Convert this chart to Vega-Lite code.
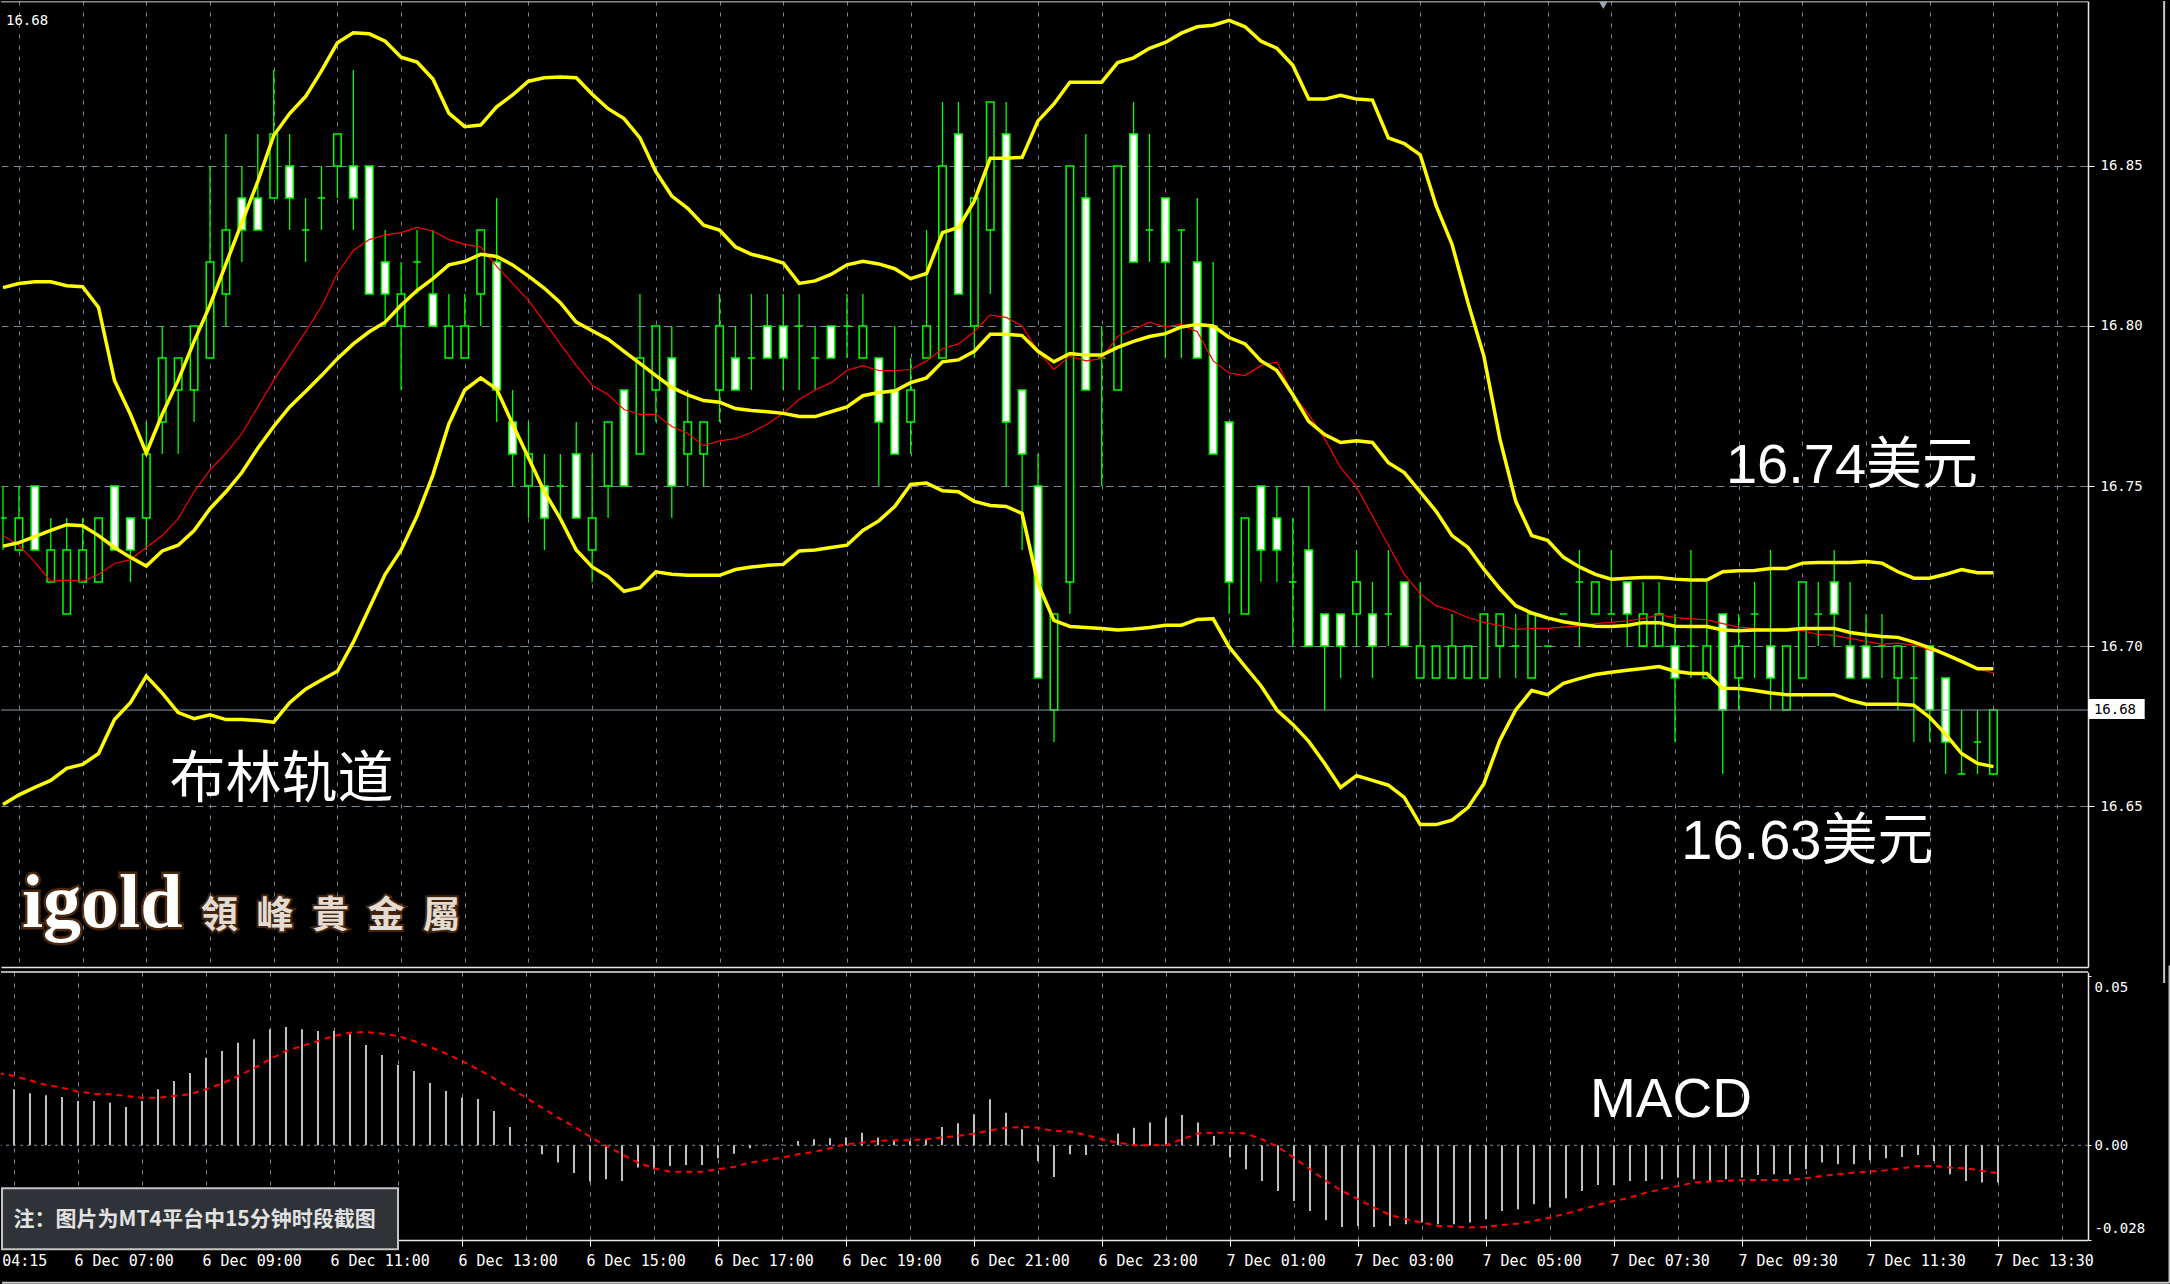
{
  "$schema": "https://vega.github.io/schema/vega-lite/v6.json",
  "background": "#000000",
  "padding": 0,
  "spacing": 5,
  "bounds": "flush",
  "config": {
    "view": {"stroke": null},
    "axis": {"title": null, "labelFont": "DejaVu Sans Mono", "labelColor": "#ffffff", "tickColor": "#ffffff", "domainColor": "#e6e6e6", "gridColor": "#778899", "labelOverlap": false, "labelFlush": false, "labelBound": false}
  },
  "datasets": {
    "bars": [
      {"i":-1,"o":16.74,"h":16.75,"l":16.73,"c":16.74},
      {"i":0,"o":16.73,"h":16.75,"l":16.73,"c":16.74},
      {"i":1,"o":16.75,"h":16.75,"l":16.73,"c":16.73},
      {"i":2,"o":16.72,"h":16.74,"l":16.72,"c":16.73},
      {"i":3,"o":16.71,"h":16.74,"l":16.71,"c":16.73},
      {"i":4,"o":16.72,"h":16.74,"l":16.72,"c":16.73},
      {"i":5,"o":16.72,"h":16.74,"l":16.72,"c":16.74},
      {"i":6,"o":16.75,"h":16.75,"l":16.73,"c":16.73},
      {"i":7,"o":16.74,"h":16.74,"l":16.72,"c":16.73},
      {"i":8,"o":16.74,"h":16.77,"l":16.73,"c":16.76},
      {"i":9,"o":16.77,"h":16.80,"l":16.76,"c":16.79},
      {"i":10,"o":16.78,"h":16.79,"l":16.76,"c":16.79},
      {"i":11,"o":16.78,"h":16.80,"l":16.77,"c":16.80},
      {"i":12,"o":16.79,"h":16.85,"l":16.79,"c":16.82},
      {"i":13,"o":16.81,"h":16.86,"l":16.80,"c":16.83},
      {"i":14,"o":16.84,"h":16.85,"l":16.82,"c":16.83},
      {"i":15,"o":16.84,"h":16.86,"l":16.83,"c":16.83},
      {"i":16,"o":16.84,"h":16.88,"l":16.84,"c":16.86},
      {"i":17,"o":16.85,"h":16.86,"l":16.83,"c":16.84},
      {"i":18,"o":16.83,"h":16.84,"l":16.82,"c":16.83},
      {"i":19,"o":16.84,"h":16.85,"l":16.83,"c":16.84},
      {"i":20,"o":16.85,"h":16.86,"l":16.84,"c":16.86},
      {"i":21,"o":16.85,"h":16.88,"l":16.83,"c":16.84},
      {"i":22,"o":16.85,"h":16.85,"l":16.81,"c":16.81},
      {"i":23,"o":16.82,"h":16.83,"l":16.80,"c":16.81},
      {"i":24,"o":16.80,"h":16.82,"l":16.78,"c":16.81},
      {"i":25,"o":16.82,"h":16.83,"l":16.81,"c":16.82},
      {"i":26,"o":16.81,"h":16.83,"l":16.80,"c":16.80},
      {"i":27,"o":16.79,"h":16.81,"l":16.79,"c":16.80},
      {"i":28,"o":16.79,"h":16.81,"l":16.79,"c":16.80},
      {"i":29,"o":16.81,"h":16.83,"l":16.80,"c":16.83},
      {"i":30,"o":16.82,"h":16.84,"l":16.77,"c":16.78},
      {"i":31,"o":16.77,"h":16.78,"l":16.75,"c":16.76},
      {"i":32,"o":16.75,"h":16.77,"l":16.74,"c":16.76},
      {"i":33,"o":16.75,"h":16.76,"l":16.73,"c":16.74},
      {"i":34,"o":16.75,"h":16.76,"l":16.74,"c":16.75},
      {"i":35,"o":16.76,"h":16.77,"l":16.74,"c":16.74},
      {"i":36,"o":16.73,"h":16.76,"l":16.72,"c":16.74},
      {"i":37,"o":16.75,"h":16.77,"l":16.74,"c":16.77},
      {"i":38,"o":16.78,"h":16.78,"l":16.75,"c":16.75},
      {"i":39,"o":16.76,"h":16.81,"l":16.76,"c":16.79},
      {"i":40,"o":16.78,"h":16.80,"l":16.77,"c":16.80},
      {"i":41,"o":16.79,"h":16.80,"l":16.74,"c":16.75},
      {"i":42,"o":16.76,"h":16.78,"l":16.75,"c":16.77},
      {"i":43,"o":16.76,"h":16.77,"l":16.75,"c":16.77},
      {"i":44,"o":16.78,"h":16.81,"l":16.77,"c":16.80},
      {"i":45,"o":16.79,"h":16.80,"l":16.78,"c":16.78},
      {"i":46,"o":16.79,"h":16.81,"l":16.78,"c":16.79},
      {"i":47,"o":16.80,"h":16.81,"l":16.79,"c":16.79},
      {"i":48,"o":16.80,"h":16.81,"l":16.78,"c":16.79},
      {"i":49,"o":16.80,"h":16.81,"l":16.78,"c":16.80},
      {"i":50,"o":16.79,"h":16.80,"l":16.78,"c":16.79},
      {"i":51,"o":16.80,"h":16.80,"l":16.79,"c":16.79},
      {"i":52,"o":16.80,"h":16.81,"l":16.79,"c":16.80},
      {"i":53,"o":16.79,"h":16.81,"l":16.79,"c":16.80},
      {"i":54,"o":16.79,"h":16.79,"l":16.75,"c":16.77},
      {"i":55,"o":16.78,"h":16.80,"l":16.76,"c":16.76},
      {"i":56,"o":16.77,"h":16.79,"l":16.76,"c":16.78},
      {"i":57,"o":16.79,"h":16.83,"l":16.79,"c":16.80},
      {"i":58,"o":16.79,"h":16.87,"l":16.79,"c":16.85},
      {"i":59,"o":16.86,"h":16.87,"l":16.81,"c":16.81},
      {"i":60,"o":16.80,"h":16.84,"l":16.79,"c":16.84},
      {"i":61,"o":16.83,"h":16.87,"l":16.81,"c":16.87},
      {"i":62,"o":16.86,"h":16.87,"l":16.75,"c":16.77},
      {"i":63,"o":16.78,"h":16.78,"l":16.73,"c":16.76},
      {"i":64,"o":16.75,"h":16.76,"l":16.69,"c":16.69},
      {"i":65,"o":16.68,"h":16.71,"l":16.67,"c":16.71},
      {"i":66,"o":16.72,"h":16.85,"l":16.71,"c":16.85},
      {"i":67,"o":16.84,"h":16.86,"l":16.78,"c":16.78},
      {"i":68,"o":16.79,"h":16.80,"l":16.75,"c":16.79},
      {"i":69,"o":16.78,"h":16.85,"l":16.78,"c":16.85},
      {"i":70,"o":16.86,"h":16.87,"l":16.82,"c":16.82},
      {"i":71,"o":16.83,"h":16.86,"l":16.82,"c":16.83},
      {"i":72,"o":16.84,"h":16.84,"l":16.79,"c":16.82},
      {"i":73,"o":16.83,"h":16.83,"l":16.79,"c":16.83},
      {"i":74,"o":16.82,"h":16.84,"l":16.79,"c":16.79},
      {"i":75,"o":16.80,"h":16.82,"l":16.76,"c":16.76},
      {"i":76,"o":16.77,"h":16.77,"l":16.71,"c":16.72},
      {"i":77,"o":16.71,"h":16.74,"l":16.71,"c":16.74},
      {"i":78,"o":16.75,"h":16.75,"l":16.72,"c":16.73},
      {"i":79,"o":16.74,"h":16.75,"l":16.72,"c":16.73},
      {"i":80,"o":16.72,"h":16.74,"l":16.70,"c":16.72},
      {"i":81,"o":16.73,"h":16.75,"l":16.70,"c":16.70},
      {"i":82,"o":16.71,"h":16.71,"l":16.68,"c":16.70},
      {"i":83,"o":16.71,"h":16.71,"l":16.69,"c":16.70},
      {"i":84,"o":16.71,"h":16.73,"l":16.70,"c":16.72},
      {"i":85,"o":16.71,"h":16.72,"l":16.69,"c":16.70},
      {"i":86,"o":16.71,"h":16.73,"l":16.70,"c":16.71},
      {"i":87,"o":16.72,"h":16.72,"l":16.70,"c":16.70},
      {"i":88,"o":16.69,"h":16.72,"l":16.69,"c":16.70},
      {"i":89,"o":16.69,"h":16.70,"l":16.69,"c":16.70},
      {"i":90,"o":16.69,"h":16.71,"l":16.69,"c":16.70},
      {"i":91,"o":16.69,"h":16.70,"l":16.69,"c":16.70},
      {"i":92,"o":16.69,"h":16.71,"l":16.69,"c":16.71},
      {"i":93,"o":16.70,"h":16.71,"l":16.69,"c":16.71},
      {"i":94,"o":16.70,"h":16.71,"l":16.69,"c":16.70},
      {"i":95,"o":16.69,"h":16.71,"l":16.69,"c":16.71},
      {"i":96,"o":16.70,"h":16.70,"l":16.70,"c":16.70},
      {"i":97,"o":16.71,"h":16.71,"l":16.71,"c":16.71},
      {"i":98,"o":16.72,"h":16.73,"l":16.70,"c":16.72},
      {"i":99,"o":16.71,"h":16.72,"l":16.71,"c":16.72},
      {"i":100,"o":16.71,"h":16.73,"l":16.71,"c":16.71},
      {"i":101,"o":16.72,"h":16.72,"l":16.70,"c":16.71},
      {"i":102,"o":16.70,"h":16.72,"l":16.70,"c":16.71},
      {"i":103,"o":16.70,"h":16.72,"l":16.70,"c":16.71},
      {"i":104,"o":16.70,"h":16.71,"l":16.67,"c":16.69},
      {"i":105,"o":16.70,"h":16.73,"l":16.69,"c":16.70},
      {"i":106,"o":16.69,"h":16.72,"l":16.69,"c":16.70},
      {"i":107,"o":16.71,"h":16.71,"l":16.66,"c":16.68},
      {"i":108,"o":16.69,"h":16.71,"l":16.68,"c":16.70},
      {"i":109,"o":16.71,"h":16.72,"l":16.69,"c":16.71},
      {"i":110,"o":16.70,"h":16.73,"l":16.68,"c":16.69},
      {"i":111,"o":16.68,"h":16.70,"l":16.68,"c":16.70},
      {"i":112,"o":16.69,"h":16.72,"l":16.69,"c":16.72},
      {"i":113,"o":16.71,"h":16.72,"l":16.70,"c":16.71},
      {"i":114,"o":16.72,"h":16.73,"l":16.70,"c":16.71},
      {"i":115,"o":16.70,"h":16.72,"l":16.69,"c":16.69},
      {"i":116,"o":16.70,"h":16.71,"l":16.69,"c":16.69},
      {"i":117,"o":16.70,"h":16.71,"l":16.69,"c":16.70},
      {"i":118,"o":16.69,"h":16.70,"l":16.68,"c":16.70},
      {"i":119,"o":16.69,"h":16.70,"l":16.67,"c":16.69},
      {"i":120,"o":16.70,"h":16.70,"l":16.67,"c":16.68},
      {"i":121,"o":16.69,"h":16.69,"l":16.66,"c":16.67},
      {"i":122,"o":16.66,"h":16.68,"l":16.66,"c":16.66},
      {"i":123,"o":16.67,"h":16.68,"l":16.66,"c":16.67},
      {"i":124,"o":16.66,"h":16.68,"l":16.66,"c":16.68}
    ],
    "bands": [
      {"i":-1,"up":16.812,"mid":16.7312,"lo":16.6505,"ma":16.7345},
      {"i":0,"up":16.8133,"mid":16.7323,"lo":16.6535,"ma":16.7315},
      {"i":1,"up":16.8138,"mid":16.7342,"lo":16.6558,"ma":16.7262},
      {"i":2,"up":16.8138,"mid":16.7361,"lo":16.658,"ma":16.7202},
      {"i":3,"up":16.8126,"mid":16.7379,"lo":16.6618,"ma":16.7206},
      {"i":4,"up":16.8123,"mid":16.7376,"lo":16.663,"ma":16.7202},
      {"i":5,"up":16.8058,"mid":16.7345,"lo":16.6664,"ma":16.7224},
      {"i":6,"up":16.783,"mid":16.7308,"lo":16.677,"ma":16.7258},
      {"i":7,"up":16.7724,"mid":16.7277,"lo":16.6823,"ma":16.727},
      {"i":8,"up":16.7603,"mid":16.725,"lo":16.6906,"ma":16.7308},
      {"i":9,"up":16.7724,"mid":16.7297,"lo":16.6853,"ma":16.7345},
      {"i":10,"up":16.783,"mid":16.7315,"lo":16.6792,"ma":16.7398},
      {"i":11,"up":16.7952,"mid":16.7361,"lo":16.6773,"ma":16.7482},
      {"i":12,"up":16.8065,"mid":16.7429,"lo":16.6785,"ma":16.755},
      {"i":13,"up":16.8194,"mid":16.7482,"lo":16.677,"ma":16.7603},
      {"i":14,"up":16.8323,"mid":16.7542,"lo":16.677,"ma":16.7664},
      {"i":15,"up":16.8452,"mid":16.7618,"lo":16.6767,"ma":16.7747},
      {"i":16,"up":16.8595,"mid":16.7686,"lo":16.6762,"ma":16.783},
      {"i":17,"up":16.8664,"mid":16.7747,"lo":16.6823,"ma":16.7906},
      {"i":18,"up":16.8717,"mid":16.7795,"lo":16.6865,"ma":16.7982},
      {"i":19,"up":16.8797,"mid":16.7845,"lo":16.6894,"ma":16.8061},
      {"i":20,"up":16.8885,"mid":16.7898,"lo":16.6921,"ma":16.8164},
      {"i":21,"up":16.8916,"mid":16.7944,"lo":16.7012,"ma":16.8236},
      {"i":22,"up":16.8913,"mid":16.7982,"lo":16.7118,"ma":16.827},
      {"i":23,"up":16.889,"mid":16.8012,"lo":16.7224,"ma":16.8285},
      {"i":24,"up":16.884,"mid":16.8065,"lo":16.73,"ma":16.8292},
      {"i":25,"up":16.8825,"mid":16.8111,"lo":16.7406,"ma":16.8308},
      {"i":26,"up":16.8772,"mid":16.8148,"lo":16.7535,"ma":16.8297},
      {"i":27,"up":16.8665,"mid":16.8191,"lo":16.7694,"ma":16.827},
      {"i":28,"up":16.8623,"mid":16.8202,"lo":16.78,"ma":16.8255},
      {"i":29,"up":16.8628,"mid":16.8224,"lo":16.7838,"ma":16.8247},
      {"i":30,"up":16.8685,"mid":16.8217,"lo":16.7803,"ma":16.8186},
      {"i":31,"up":16.8722,"mid":16.8191,"lo":16.7694,"ma":16.8133},
      {"i":32,"up":16.8765,"mid":16.8156,"lo":16.7588,"ma":16.808},
      {"i":33,"up":16.8776,"mid":16.8118,"lo":16.7482,"ma":16.8012},
      {"i":34,"up":16.8778,"mid":16.8073,"lo":16.7398,"ma":16.7944},
      {"i":35,"up":16.8776,"mid":16.8012,"lo":16.73,"ma":16.7876},
      {"i":36,"up":16.8724,"mid":16.7985,"lo":16.7247,"ma":16.7815},
      {"i":37,"up":16.8679,"mid":16.7959,"lo":16.7217,"ma":16.7785},
      {"i":38,"up":16.8648,"mid":16.7921,"lo":16.7171,"ma":16.7739},
      {"i":39,"up":16.8588,"mid":16.7883,"lo":16.7182,"ma":16.7724},
      {"i":40,"up":16.8482,"mid":16.7845,"lo":16.7232,"ma":16.7724},
      {"i":41,"up":16.8406,"mid":16.7808,"lo":16.7224,"ma":16.7686},
      {"i":42,"up":16.8368,"mid":16.7785,"lo":16.7221,"ma":16.7664},
      {"i":43,"up":16.8315,"mid":16.7767,"lo":16.7221,"ma":16.7626},
      {"i":44,"up":16.83,"mid":16.7762,"lo":16.7221,"ma":16.7641},
      {"i":45,"up":16.8247,"mid":16.7742,"lo":16.7239,"ma":16.7648},
      {"i":46,"up":16.8224,"mid":16.7736,"lo":16.7247,"ma":16.7667},
      {"i":47,"up":16.8212,"mid":16.7732,"lo":16.7252,"ma":16.7694},
      {"i":48,"up":16.8197,"mid":16.7727,"lo":16.7255,"ma":16.7727},
      {"i":49,"up":16.8133,"mid":16.7717,"lo":16.7297,"ma":16.777},
      {"i":50,"up":16.8141,"mid":16.7717,"lo":16.73,"ma":16.78},
      {"i":51,"up":16.8161,"mid":16.7732,"lo":16.7308,"ma":16.7823},
      {"i":52,"up":16.8191,"mid":16.7747,"lo":16.7315,"ma":16.7861},
      {"i":53,"up":16.8202,"mid":16.7782,"lo":16.7361,"ma":16.7876},
      {"i":54,"up":16.8194,"mid":16.7792,"lo":16.7391,"ma":16.7861},
      {"i":55,"up":16.8179,"mid":16.7797,"lo":16.7436,"ma":16.7861},
      {"i":56,"up":16.8148,"mid":16.7823,"lo":16.7505,"ma":16.7864},
      {"i":57,"up":16.8164,"mid":16.7838,"lo":16.7509,"ma":16.7891},
      {"i":58,"up":16.8292,"mid":16.7888,"lo":16.7485,"ma":16.7929},
      {"i":59,"up":16.8308,"mid":16.7894,"lo":16.7482,"ma":16.7944},
      {"i":60,"up":16.8391,"mid":16.7921,"lo":16.7452,"ma":16.7982},
      {"i":61,"up":16.8524,"mid":16.7974,"lo":16.7439,"ma":16.8035},
      {"i":62,"up":16.8524,"mid":16.7974,"lo":16.7436,"ma":16.8027},
      {"i":63,"up":16.8527,"mid":16.797,"lo":16.7414,"ma":16.8},
      {"i":64,"up":16.8641,"mid":16.7921,"lo":16.7194,"ma":16.7921},
      {"i":65,"up":16.8694,"mid":16.7888,"lo":16.708,"ma":16.7864},
      {"i":66,"up":16.8762,"mid":16.7914,"lo":16.7061,"ma":16.7906},
      {"i":67,"up":16.8762,"mid":16.7909,"lo":16.7058,"ma":16.7891},
      {"i":68,"up":16.8762,"mid":16.7909,"lo":16.7055,"ma":16.7898},
      {"i":69,"up":16.8823,"mid":16.7933,"lo":16.705,"ma":16.7967},
      {"i":70,"up":16.8838,"mid":16.7952,"lo":16.7053,"ma":16.7989},
      {"i":71,"up":16.8868,"mid":16.7967,"lo":16.7058,"ma":16.8012},
      {"i":72,"up":16.8886,"mid":16.7976,"lo":16.7065,"ma":16.7997},
      {"i":73,"up":16.8915,"mid":16.7997,"lo":16.7065,"ma":16.8005},
      {"i":74,"up":16.8935,"mid":16.8005,"lo":16.7083,"ma":16.7982},
      {"i":75,"up":16.894,"mid":16.8,"lo":16.7085,"ma":16.7891},
      {"i":76,"up":16.8955,"mid":16.7964,"lo":16.6997,"ma":16.7853},
      {"i":77,"up":16.8935,"mid":16.7944,"lo":16.6936,"ma":16.7845},
      {"i":78,"up":16.889,"mid":16.7891,"lo":16.6876,"ma":16.7876},
      {"i":79,"up":16.8868,"mid":16.7861,"lo":16.68,"ma":16.7888},
      {"i":80,"up":16.8815,"mid":16.7785,"lo":16.6755,"ma":16.7785},
      {"i":81,"up":16.8709,"mid":16.7702,"lo":16.6702,"ma":16.7724},
      {"i":82,"up":16.8709,"mid":16.7661,"lo":16.6633,"ma":16.7648},
      {"i":83,"up":16.8721,"mid":16.7636,"lo":16.6558,"ma":16.7558},
      {"i":84,"up":16.8709,"mid":16.7641,"lo":16.6595,"ma":16.7497},
      {"i":85,"up":16.8706,"mid":16.7636,"lo":16.658,"ma":16.7406},
      {"i":86,"up":16.8588,"mid":16.7573,"lo":16.6565,"ma":16.7315},
      {"i":87,"up":16.857,"mid":16.7542,"lo":16.6527,"ma":16.7224},
      {"i":88,"up":16.8535,"mid":16.7482,"lo":16.6442,"ma":16.7164},
      {"i":89,"up":16.8376,"mid":16.7421,"lo":16.6442,"ma":16.7126},
      {"i":90,"up":16.8255,"mid":16.7345,"lo":16.6456,"ma":16.711},
      {"i":91,"up":16.8073,"mid":16.7308,"lo":16.6495,"ma":16.7089},
      {"i":92,"up":16.7906,"mid":16.724,"lo":16.657,"ma":16.7074},
      {"i":93,"up":16.7648,"mid":16.7179,"lo":16.6705,"ma":16.7064},
      {"i":94,"up":16.7452,"mid":16.7126,"lo":16.68,"ma":16.7052},
      {"i":95,"up":16.7345,"mid":16.7103,"lo":16.6861,"ma":16.7055},
      {"i":96,"up":16.733,"mid":16.7088,"lo":16.6848,"ma":16.7055},
      {"i":97,"up":16.7277,"mid":16.7076,"lo":16.6883,"ma":16.7059},
      {"i":98,"up":16.7247,"mid":16.7068,"lo":16.6898,"ma":16.7062},
      {"i":99,"up":16.7224,"mid":16.7062,"lo":16.6911,"ma":16.707},
      {"i":100,"up":16.7209,"mid":16.7061,"lo":16.6918,"ma":16.7074},
      {"i":101,"up":16.7212,"mid":16.7064,"lo":16.6924,"ma":16.7079},
      {"i":102,"up":16.7214,"mid":16.7073,"lo":16.693,"ma":16.7086},
      {"i":103,"up":16.7214,"mid":16.7073,"lo":16.6936,"ma":16.7097},
      {"i":104,"up":16.7209,"mid":16.7062,"lo":16.6921,"ma":16.7089},
      {"i":105,"up":16.7206,"mid":16.7061,"lo":16.6914,"ma":16.7085},
      {"i":106,"up":16.7206,"mid":16.7061,"lo":16.6914,"ma":16.7082},
      {"i":107,"up":16.7232,"mid":16.705,"lo":16.6868,"ma":16.707},
      {"i":108,"up":16.7235,"mid":16.7048,"lo":16.6867,"ma":16.7059},
      {"i":109,"up":16.7236,"mid":16.705,"lo":16.6861,"ma":16.7055},
      {"i":110,"up":16.7242,"mid":16.705,"lo":16.6853,"ma":16.705},
      {"i":111,"up":16.7242,"mid":16.705,"lo":16.6848,"ma":16.7048},
      {"i":112,"up":16.7259,"mid":16.7055,"lo":16.6848,"ma":16.7048},
      {"i":113,"up":16.7261,"mid":16.7055,"lo":16.6848,"ma":16.7036},
      {"i":114,"up":16.7261,"mid":16.7055,"lo":16.6848,"ma":16.7033},
      {"i":115,"up":16.7261,"mid":16.7042,"lo":16.683,"ma":16.7024},
      {"i":116,"up":16.7264,"mid":16.7035,"lo":16.6818,"ma":16.7014},
      {"i":117,"up":16.7259,"mid":16.703,"lo":16.6818,"ma":16.7006},
      {"i":118,"up":16.7232,"mid":16.7027,"lo":16.6818,"ma":16.7009},
      {"i":119,"up":16.7212,"mid":16.7012,"lo":16.6815,"ma":16.7003},
      {"i":120,"up":16.7212,"mid":16.6994,"lo":16.6777,"ma":16.6988},
      {"i":121,"up":16.7224,"mid":16.6974,"lo":16.6724,"ma":16.6976},
      {"i":122,"up":16.7239,"mid":16.6952,"lo":16.6664,"ma":16.6953},
      {"i":123,"up":16.7229,"mid":16.6929,"lo":16.6633,"ma":16.693},
      {"i":124,"up":16.7229,"mid":16.6929,"lo":16.6623,"ma":16.6915}
    ],
    "macd": [
      {"i":-1,"hist":0.0168,"sig":0.0214},
      {"i":0,"hist":0.01654,"sig":0.02047},
      {"i":1,"hist":0.01535,"sig":0.0192},
      {"i":2,"hist":0.01476,"sig":0.01781},
      {"i":3,"hist":0.01427,"sig":0.01703},
      {"i":4,"hist":0.01309,"sig":0.01584},
      {"i":5,"hist":0.01309,"sig":0.01525},
      {"i":6,"hist":0.01259,"sig":0.01507},
      {"i":7,"hist":0.01131,"sig":0.01456},
      {"i":8,"hist":0.01309,"sig":0.01407},
      {"i":9,"hist":0.01654,"sig":0.01407},
      {"i":10,"hist":0.019,"sig":0.01456},
      {"i":11,"hist":0.02136,"sig":0.01507},
      {"i":12,"hist":0.02588,"sig":0.01654},
      {"i":13,"hist":0.02786,"sig":0.0182},
      {"i":14,"hist":0.03031,"sig":0.02047},
      {"i":15,"hist":0.03131,"sig":0.02275},
      {"i":16,"hist":0.03427,"sig":0.0254},
      {"i":17,"hist":0.03495,"sig":0.02786},
      {"i":18,"hist":0.03427,"sig":0.02934},
      {"i":19,"hist":0.03377,"sig":0.03081},
      {"i":20,"hist":0.03377,"sig":0.03229},
      {"i":21,"hist":0.03279,"sig":0.03327},
      {"i":22,"hist":0.02963,"sig":0.03347},
      {"i":23,"hist":0.02668,"sig":0.03297},
      {"i":24,"hist":0.02372,"sig":0.03229},
      {"i":25,"hist":0.02195,"sig":0.03081},
      {"i":26,"hist":0.0184,"sig":0.02904},
      {"i":27,"hist":0.01604,"sig":0.02706},
      {"i":28,"hist":0.0141,"sig":0.0249},
      {"i":29,"hist":0.0137,"sig":0.02245},
      {"i":30,"hist":0.01013,"sig":0.01979},
      {"i":31,"hist":0.0054,"sig":0.01703},
      {"i":32,"hist":0.0002,"sig":0.01407},
      {"i":33,"hist":-0.00266,"sig":0.01111},
      {"i":34,"hist":-0.00512,"sig":0.00815},
      {"i":35,"hist":-0.00818,"sig":0.0055},
      {"i":36,"hist":-0.01074,"sig":0.00254},
      {"i":37,"hist":-0.01005,"sig":-0.0002},
      {"i":38,"hist":-0.01054,"sig":-0.00266},
      {"i":39,"hist":-0.00661,"sig":-0.00512},
      {"i":40,"hist":-0.00709,"sig":-0.0068},
      {"i":41,"hist":-0.00611,"sig":-0.0078},
      {"i":42,"hist":-0.00582,"sig":-0.0078},
      {"i":43,"hist":-0.00582,"sig":-0.0078},
      {"i":44,"hist":-0.00384,"sig":-0.00709},
      {"i":45,"hist":-0.00248,"sig":-0.00641},
      {"i":46,"hist":-0.00089,"sig":-0.00512},
      {"i":47,"hist":0.0002,"sig":-0.00443},
      {"i":48,"hist":0.0002,"sig":-0.00366},
      {"i":49,"hist":0.00128,"sig":-0.00266},
      {"i":50,"hist":0.00177,"sig":-0.00198},
      {"i":51,"hist":0.00207,"sig":-0.00089},
      {"i":52,"hist":0.00226,"sig":0.0003},
      {"i":53,"hist":0.00373,"sig":0.00077},
      {"i":54,"hist":0.00226,"sig":0.00128},
      {"i":55,"hist":0.00128,"sig":0.00148},
      {"i":56,"hist":0.00128,"sig":0.00148},
      {"i":57,"hist":0.00177,"sig":0.00177},
      {"i":58,"hist":0.0054,"sig":0.00226},
      {"i":59,"hist":0.0065,"sig":0.00275},
      {"i":60,"hist":0.00916,"sig":0.00343},
      {"i":61,"hist":0.01359,"sig":0.00443},
      {"i":62,"hist":0.00964,"sig":0.0052},
      {"i":63,"hist":0.00473,"sig":0.0054},
      {"i":64,"hist":-0.00463,"sig":0.0052},
      {"i":65,"hist":-0.00935,"sig":0.00422},
      {"i":66,"hist":-0.00266,"sig":0.00403},
      {"i":67,"hist":-0.00286,"sig":0.00305},
      {"i":68,"hist":-0.0003,"sig":0.00177},
      {"i":69,"hist":0.00345,"sig":0.00079},
      {"i":70,"hist":0.0052,"sig":0.0},
      {"i":71,"hist":0.00669,"sig":0.0},
      {"i":72,"hist":0.00815,"sig":0.0},
      {"i":73,"hist":0.00895,"sig":0.00177},
      {"i":74,"hist":0.00669,"sig":0.00345},
      {"i":75,"hist":0.00276,"sig":0.00373},
      {"i":76,"hist":-0.00364,"sig":0.00373},
      {"i":77,"hist":-0.00709,"sig":0.00345},
      {"i":78,"hist":-0.01054,"sig":0.00177},
      {"i":79,"hist":-0.0135,"sig":-0.0005},
      {"i":80,"hist":-0.01645,"sig":-0.00364},
      {"i":81,"hist":-0.0194,"sig":-0.00709},
      {"i":82,"hist":-0.02216,"sig":-0.01054},
      {"i":83,"hist":-0.02413,"sig":-0.0135},
      {"i":84,"hist":-0.02384,"sig":-0.01596},
      {"i":85,"hist":-0.02413,"sig":-0.01842},
      {"i":86,"hist":-0.02384,"sig":-0.02058},
      {"i":87,"hist":-0.02334,"sig":-0.02186},
      {"i":88,"hist":-0.02285,"sig":-0.02285},
      {"i":89,"hist":-0.02334,"sig":-0.02384},
      {"i":90,"hist":-0.02334,"sig":-0.02403},
      {"i":91,"hist":-0.02285,"sig":-0.02433},
      {"i":92,"hist":-0.02186,"sig":-0.02413},
      {"i":93,"hist":-0.0194,"sig":-0.02354},
      {"i":94,"hist":-0.0189,"sig":-0.02315},
      {"i":95,"hist":-0.01743,"sig":-0.02236},
      {"i":96,"hist":-0.01842,"sig":-0.02137},
      {"i":97,"hist":-0.01566,"sig":-0.0202},
      {"i":98,"hist":-0.0135,"sig":-0.0189},
      {"i":99,"hist":-0.01172,"sig":-0.01764},
      {"i":100,"hist":-0.01172,"sig":-0.01645},
      {"i":101,"hist":-0.01054,"sig":-0.01547},
      {"i":102,"hist":-0.01054,"sig":-0.014},
      {"i":103,"hist":-0.01005,"sig":-0.013},
      {"i":104,"hist":-0.00956,"sig":-0.01202},
      {"i":105,"hist":-0.01005,"sig":-0.01103},
      {"i":106,"hist":-0.01054,"sig":-0.01074},
      {"i":107,"hist":-0.01005,"sig":-0.01054},
      {"i":108,"hist":-0.00956,"sig":-0.01034},
      {"i":109,"hist":-0.00877,"sig":-0.01024},
      {"i":110,"hist":-0.00857,"sig":-0.01024},
      {"i":111,"hist":-0.00857,"sig":-0.01024},
      {"i":112,"hist":-0.00709,"sig":-0.00975},
      {"i":113,"hist":-0.00512,"sig":-0.00906},
      {"i":114,"hist":-0.00562,"sig":-0.00857},
      {"i":115,"hist":-0.00562,"sig":-0.00808},
      {"i":116,"hist":-0.00443,"sig":-0.0078},
      {"i":117,"hist":-0.00384,"sig":-0.0074},
      {"i":118,"hist":-0.00345,"sig":-0.0068},
      {"i":119,"hist":-0.00286,"sig":-0.00611},
      {"i":120,"hist":-0.00463,"sig":-0.00611},
      {"i":121,"hist":-0.00857,"sig":-0.00661},
      {"i":122,"hist":-0.01054,"sig":-0.0068},
      {"i":123,"hist":-0.01103,"sig":-0.00759},
      {"i":124,"hist":-0.01103,"sig":-0.00827}
    ]
  },
  "vconcat": [
    {
      "width": 2087,
      "height": 966,
      "layer": [
        {
          "data": {"name": "bars"},
          "mark": {"type": "rule", "color": "#00ff00", "strokeWidth": 1.3, "clip": true},
          "encoding": {
            "x": {"field": "i", "type": "quantitative",
              "scale": {"domain": [-0.8125, 129.625], "nice": false, "zero": false},
              "axis": {"orient": "bottom", "values": [0,4,8,12,16,20,24,28,32,36,40,44,48,52,56,60,64,68,72,76,80,84,88,92,96,100,104,108,112,116,120,124,128],
                "grid": true, "gridDash": [4, 7], "gridWidth": 1, "labels": false, "ticks": false, "domain": true, "domainWidth": 1.5}},
            "y": {"field": "l", "type": "quantitative",
              "scale": {"domain": [16.59969, 16.90156], "nice": false, "zero": false},
              "axis": {"orient": "right", "values": [16.65, 16.7, 16.75, 16.8, 16.85], "format": ".2f",
                "grid": true, "gridDash": [8, 5], "gridWidth": 1, "tickSize": 6, "labelPadding": 6, "labelFontSize": 14, "domainWidth": 1.5}},
            "y2": {"field": "h"}
          }
        },
        {
          "data": {"name": "bars"},
          "mark": {"type": "bar", "size": 7.5, "stroke": "#00ff00", "strokeWidth": 1.5, "clip": true},
          "encoding": {
            "x": {"field": "i", "type": "quantitative"},
            "y": {"field": "o", "type": "quantitative"},
            "y2": {"field": "c"},
            "fill": {"condition": {"test": "datum.c < datum.o", "value": "#ffffff"}, "value": "#000000"}
          }
        },
        {
          "data": {"values": [{"p": 16.68}]},
          "mark": {"type": "rule", "color": "#8797a8", "strokeWidth": 1},
          "encoding": {"y": {"field": "p", "type": "quantitative"}}
        },
        {
          "data": {"name": "bands"},
          "mark": {"type": "line", "color": "#ff0000", "strokeWidth": 1.2, "clip": true},
          "encoding": {"x": {"field": "i", "type": "quantitative"}, "y": {"field": "ma", "type": "quantitative"}}
        },
        {
          "data": {"name": "bands"},
          "mark": {"type": "line", "color": "#ffff00", "strokeWidth": 3.5, "clip": true},
          "encoding": {"x": {"field": "i", "type": "quantitative"}, "y": {"field": "up", "type": "quantitative"}}
        },
        {
          "data": {"name": "bands"},
          "mark": {"type": "line", "color": "#ffff00", "strokeWidth": 3.5, "clip": true},
          "encoding": {"x": {"field": "i", "type": "quantitative"}, "y": {"field": "mid", "type": "quantitative"}}
        },
        {
          "data": {"name": "bands"},
          "mark": {"type": "line", "color": "#ffff00", "strokeWidth": 3.5, "clip": true},
          "encoding": {"x": {"field": "i", "type": "quantitative"}, "y": {"field": "lo", "type": "quantitative"}}
        },
        {
          "data": {"values": [{"p": 16.9013}]},
          "mark": {"type": "rule", "color": "#d0d0d0", "strokeWidth": 1},
          "encoding": {"y": {"field": "p", "type": "quantitative"}}
        },
        {
          "data": {"values": [{"e": 99.5}]},
          "mark": {"type": "point", "shape": "triangle-down", "filled": true, "color": "#9aa6b4", "size": 70, "opacity": 1},
          "encoding": {"x": {"field": "e", "type": "quantitative"}, "y": {"datum": 16.9002}}
        },
        {
          "data": {"values": [{"e": 134.72}]},
          "mark": {"type": "rule", "color": "#c8c8c8", "strokeWidth": 2},
          "encoding": {"x": {"field": "e", "type": "quantitative"}, "y": {"datum": 16.90156}, "y2": {"datum": 16.5947}}
        },
        {
          "data": {"values": [{"p": 16.68}]},
          "mark": {"type": "rect", "fill": "#ffffff"},
          "encoding": {"x": {"datum": 129.94}, "x2": {"datum": 133.5}, "y": {"datum": 16.6834}, "y2": {"datum": 16.6772}}
        },
        {
          "data": {"values": [{"p": 16.68}]},
          "mark": {"type": "text", "font": "DejaVu Sans Mono", "fontSize": 14, "color": "#000000", "align": "left", "baseline": "middle"},
          "encoding": {"x": {"datum": 130.31}, "y": {"field": "p", "type": "quantitative"}, "text": {"field": "p", "type": "quantitative", "format": ".2f"}}
        },
        {
          "data": {"values": [{"p": 16.68}]},
          "mark": {"type": "text", "font": "DejaVu Sans Mono", "fontSize": 14, "color": "#ffffff", "align": "left", "baseline": "alphabetic"},
          "encoding": {"x": {"datum": -0.8125}, "y": {"datum": 16.8941}, "text": {"field": "p", "type": "quantitative", "format": ".2f"}}
        },
        {
          "data": {"values": [{"t": "布林轨道"}]},
          "mark": {"type": "text", "font": "Noto Sans CJK SC", "fontSize": 56, "color": "#ffffff", "align": "left", "baseline": "alphabetic"},
          "encoding": {"x": {"datum": 9.46}, "y": {"datum": 16.6529}, "text": {"field": "t"}}
        },
        {
          "data": {"values": [{"t": "16.74美元"}]},
          "mark": {"type": "text", "font": "Liberation Sans, Noto Sans CJK SC", "fontSize": 56, "color": "#ffffff", "align": "left", "baseline": "alphabetic"},
          "encoding": {"x": {"datum": 107.2}, "y": {"datum": 16.7509}, "text": {"field": "t"}}
        },
        {
          "data": {"values": [{"t": "16.63美元"}]},
          "mark": {"type": "text", "font": "Liberation Sans, Noto Sans CJK SC", "fontSize": 56, "color": "#ffffff", "align": "left", "baseline": "alphabetic"},
          "encoding": {"x": {"datum": 104.4}, "y": {"datum": 16.6334}, "text": {"field": "t"}}
        },
        {
          "data": {"values": [{"t": "igold"}]},
          "mark": {"type": "text", "font": "Liberation Serif", "fontWeight": "bold", "fontSize": 76, "fill": "#7a4318", "stroke": "#7a4318", "strokeWidth": 5, "opacity": 0.6, "align": "left", "baseline": "alphabetic"},
          "encoding": {"x": {"datum": 0.19}, "y": {"datum": 16.6122}, "text": {"field": "t"}}
        },
        {
          "data": {"values": [{"t": "igold"}]},
          "mark": {"type": "text", "font": "Liberation Serif", "fontWeight": "bold", "fontSize": 76, "color": "#ffffff", "align": "left", "baseline": "alphabetic"},
          "encoding": {"x": {"datum": 0.19}, "y": {"datum": 16.6122}, "text": {"field": "t"}}
        },
        {
          "data": {"values": [{"t": "領\u2002峰\u2002貴\u2002金\u2002屬"}]},
          "mark": {"type": "text", "font": "Noto Sans CJK TC", "fontWeight": "bold", "fontSize": 37, "fill": "#6e3e18", "stroke": "#6e3e18", "strokeWidth": 4, "opacity": 0.6, "align": "left", "baseline": "alphabetic"},
          "encoding": {"x": {"datum": 11.44}, "y": {"datum": 16.6119}, "text": {"field": "t"}}
        },
        {
          "data": {"values": [{"t": "領\u2002峰\u2002貴\u2002金\u2002屬"}]},
          "mark": {"type": "text", "font": "Noto Sans CJK TC", "fontWeight": "bold", "fontSize": 37, "color": "#e4dcd2", "align": "left", "baseline": "alphabetic"},
          "encoding": {"x": {"datum": 11.44}, "y": {"datum": 16.6119}, "text": {"field": "t"}}
        }
      ]
    },
    {
      "width": 2087,
      "height": 268,
      "layer": [
        {
          "data": {"values": [{"z": 0}]},
          "mark": {"type": "rule", "color": "#778899", "strokeWidth": 1, "strokeDash": [3, 4]},
          "encoding": {"y": {"field": "z", "type": "quantitative", "scale": {"domain": [-0.028, 0.0512], "nice": false, "zero": false}}}
        },
        {
          "data": {"name": "macd"},
          "mark": {"type": "rule", "color": "#c0c0c0", "strokeWidth": 2, "clip": true},
          "encoding": {
            "x": {"field": "i", "type": "quantitative",
              "scale": {"domain": [-0.8125, 129.625], "nice": false, "zero": false},
              "axis": {"orient": "bottom",
                "values": [2.3,0,4,8,12,16,20,24,28,32,36,40,44,48,52,56,60,64,68,72,76,80,84,88,92,96,100,104,108,112,116,120,124,128],
                "labelExpr": "datum.value == 2.3 ? '04:15' : ((datum.value - 4) % 8 == 0 ? ['6 Dec 07:00','6 Dec 09:00','6 Dec 11:00','6 Dec 13:00','6 Dec 15:00','6 Dec 17:00','6 Dec 19:00','6 Dec 21:00','6 Dec 23:00','7 Dec 01:00','7 Dec 03:00','7 Dec 05:00','7 Dec 07:30','7 Dec 09:30','7 Dec 11:30','7 Dec 13:30'][(datum.value - 4) / 8] : '')",
                "labelAlign": {"condition": {"test": "datum.value == 2.3", "value": "right"}, "value": "left"},
                "labelOffset": -4, "labelFontSize": 15, "labelPadding": 7,
                "tickSize": 6,
                "tickOpacity": {"condition": {"test": "(datum.value - 4) % 8 != 0", "value": 0}, "value": 1},
                "grid": true, "gridDash": [4, 7], "gridWidth": 1,
                "gridOpacity": {"condition": {"test": "datum.value % 4 != 0", "value": 0}, "value": 1},
                "domainWidth": 1.5}},
            "y": {"field": "hist", "type": "quantitative",
              "axis": {"orient": "right", "values": [0.05, 0, -0.028],
                "labelExpr": "datum.value == 0.05 ? '0.05' : (datum.value == 0 ? '0.00' : '-0.028')",
                "labelBaseline": {"expr": "datum.value == 0.05 ? 'top' : (datum.value == 0 ? 'middle' : 'bottom')"},
                "labelOffset": {"expr": "datum.value == 0.05 ? 4 : (datum.value == 0 ? 0 : -5)"},
                "grid": false, "tickSize": 3, "labelPadding": 3, "labelFontSize": 14, "domainWidth": 1.5}},
            "y2": {"datum": 0}
          }
        },
        {
          "data": {"name": "macd"},
          "mark": {"type": "line", "color": "#ff0000", "strokeWidth": 2, "strokeDash": [6, 5], "clip": true},
          "encoding": {"x": {"field": "i", "type": "quantitative"}, "y": {"field": "sig", "type": "quantitative"}}
        },
        {
          "data": {"values": [{"z": 0.0512}]},
          "mark": {"type": "rule", "color": "#e6e6e6", "strokeWidth": 1.5},
          "encoding": {"y": {"field": "z", "type": "quantitative"}}
        },
        {
          "data": {"values": [{"e": 134.72}]},
          "mark": {"type": "rule", "color": "#c8c8c8", "strokeWidth": 2},
          "encoding": {"x": {"field": "e", "type": "quantitative"}, "y": {"datum": 0.0531}, "y2": {"datum": -0.0406}}
        },
        {
          "data": {"values": [{"z": -0.0406}]},
          "mark": {"type": "rule", "color": "#c8c8c8", "strokeWidth": 2},
          "encoding": {"y": {"field": "z", "type": "quantitative"}, "x": {"datum": -0.75}, "x2": {"datum": 134.72}}
        },
        {
          "data": {"values": [{"t": "MACD"}]},
          "mark": {"type": "text", "font": "Liberation Sans", "fontSize": 55, "color": "#ffffff", "align": "left", "baseline": "alphabetic"},
          "encoding": {"x": {"datum": 98.5}, "y": {"datum": 0.00835}, "text": {"field": "t"}}
        },
        {
          "data": {"values": [{"t": "注：图片为MT4平台中15分钟时段截图"}]},
          "mark": {"type": "rect", "fill": "#2f3237", "stroke": "#c4c4c4", "strokeWidth": 2},
          "encoding": {"x": {"datum": -0.75}, "x2": {"datum": 24.0}, "y": {"datum": -0.0127}, "y2": {"datum": -0.0307}}
        },
        {
          "data": {"values": [{"t": "注：图片为MT4平台中15分钟时段截图"}]},
          "mark": {"type": "text", "font": "Noto Sans CJK SC", "fontWeight": "bold", "fontSize": 21, "color": "#e2e2e2", "align": "left", "baseline": "alphabetic"},
          "encoding": {"x": {"datum": -0.03}, "y": {"datum": -0.02386}, "text": {"field": "t"}}
        }
      ]
    }
  ]
}
